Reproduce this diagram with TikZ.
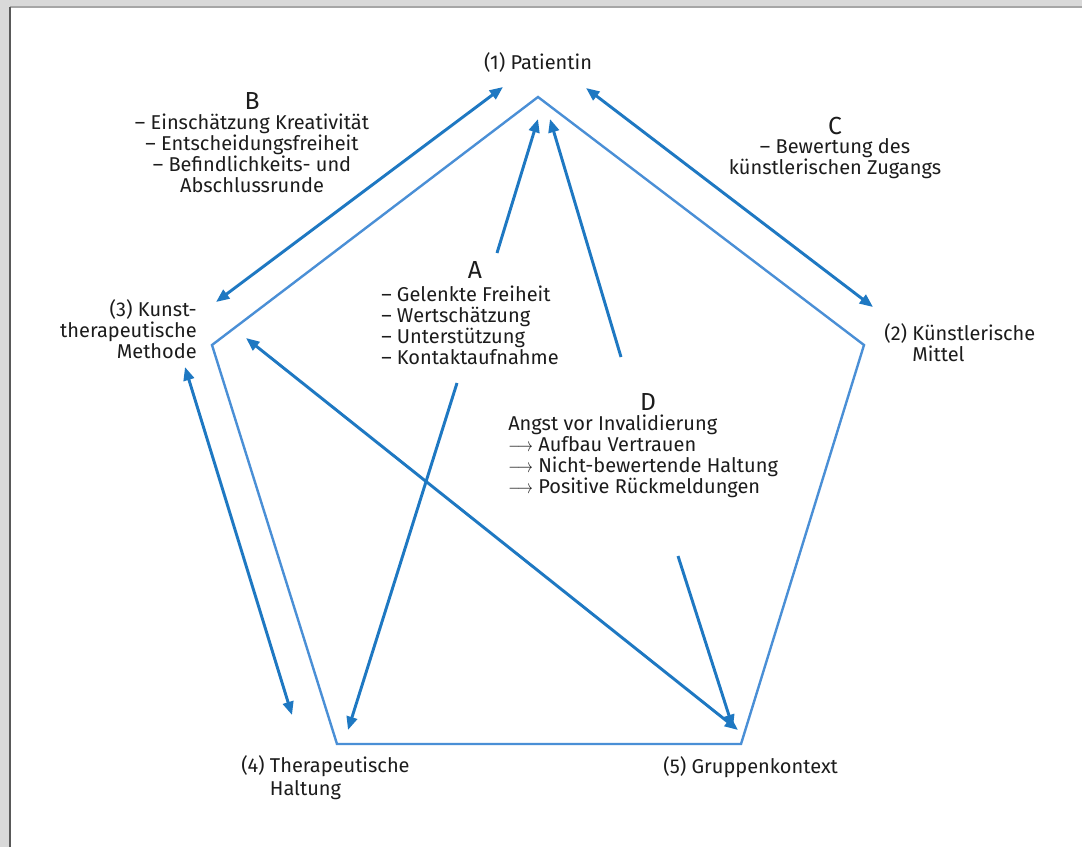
\documentclass[tikz,border=0pt]{standalone}
\usepackage{fontspec}
\setmainfont{Fira Sans}
\usetikzlibrary{arrows.meta}
\definecolor{arrowblue}{HTML}{1E78C2}
\definecolor{pentblue}{HTML}{4A8FD6}
\definecolor{txt}{HTML}{1C1C1C}
\newcommand{\larr}{\smash{\scalebox{0.8}[1]{$\longrightarrow$}}}
\begin{document}
\begin{tikzpicture}[x=0.75pt,y=-0.75pt,
  tip/.tip={Triangle[length=10pt,width=8pt]},
  arr/.style={draw=arrowblue, line width=2.2pt, -tip},
  darr/.style={draw=arrowblue, line width=2.2pt, tip-tip},
  pent/.style={draw=pentblue, line width=1.8pt, line join=miter},
  lbl/.style={font=\fontsize{15}{15.75}\selectfont, inner sep=0pt, text=txt},
  letter/.style={font=\fontsize{18.5}{20}\selectfont, inner sep=0pt, text=txt}
]
\useasboundingbox (0,0) rectangle (1082,847);
\fill[black!15] (0,0) rectangle (1082,847);
\fill[white] (10,7) rectangle (1082,847);
\draw[black!35, line width=0.8pt] (10,7) -- (1082,7);
\draw[black!65, line width=1pt] (10,847) -- (10,7);

% pentagon
\coordinate (p1) at (538,97);
\coordinate (p2) at (864,345);
\coordinate (p5) at (741,744);
\coordinate (p4) at (337,744);
\coordinate (p3) at (212,345);
\draw[pent] (p1) -- (p2) -- (p5) -- (p4) -- (p3) -- cycle;

% labels
\node[lbl] (n1) at (538,62) {(1) Patientin};
\node[lbl, anchor=west, align=left] (n2) at (884,344) {(2) Künstlerische\\\phantom{(2) }Mittel};
\node[lbl, anchor=east, align=right] (n3) at (197,329.5) {(3) Kunst-\\therapeutische\\Methode};
\node[lbl, anchor=west, align=left] (n4) at (241,777.5) {(4) Therapeutische\\\phantom{(4) }Haltung};
\node[lbl, anchor=west] (n5) at (663,767) {(5) Gruppenkontext};

\node[letter] (lB) at (252,101) {B};
\node[lbl, align=center] (tB) at (252,153.5) {– Einschätzung Kreativität\\– Entscheidungsfreiheit\\– Befindlichkeits- und\\Abschlussrunde};
\node[letter] (lC) at (835,126) {C};
\node[lbl, align=center] (tC) at (835,159) {– Bewertung des\\künstlerischen Zugangs};
\node[letter] (lA) at (475,270) {A};
\node[lbl, anchor=west, align=left] (tA) at (381,325.5) {– Gelenkte Freiheit\\– Wertschätzung\\– Unterstützung\\– Kontaktaufnahme};
\node[letter] (lD) at (648,402) {D};
\node[lbl, anchor=west, align=left] (tD) at (508,456.5) {Angst vor Invalidierung\\\larr{} Aufbau Vertrauen\\\larr{} Nicht-bewertende Haltung\\\larr{} Positive Rückmeldungen};

% arrow end points
\coordinate (b1) at (216,302); \coordinate (b2) at (503,87);
\coordinate (c1) at (586,88);  \coordinate (c2) at (873,307);
\coordinate (a1s) at (497,253); \coordinate (a1e) at (538,119);
\coordinate (a2s) at (621,357); \coordinate (a2e) at (550,119);
\coordinate (a3s) at (457,383); \coordinate (a3e) at (348,730);
\coordinate (m1) at (185,367); \coordinate (m2) at (292,715);
\coordinate (g1) at (246,338); \coordinate (g2) at (738,730);
\coordinate (d1) at (678,556); \coordinate (d2) at (733,728);

\draw[darr] (b1) -- (b2);
\draw[darr] (c1) -- (c2);
\draw[arr] (a1s) -- (a1e);
\draw[arr] (a2s) -- (a2e);
\draw[arr] (a3s) -- (a3e);
\draw[darr] (m1) -- (m2);
\draw[darr] (g1) -- (g2);
\draw[arr] (d1) -- (d2);
\end{tikzpicture}
\end{document}
